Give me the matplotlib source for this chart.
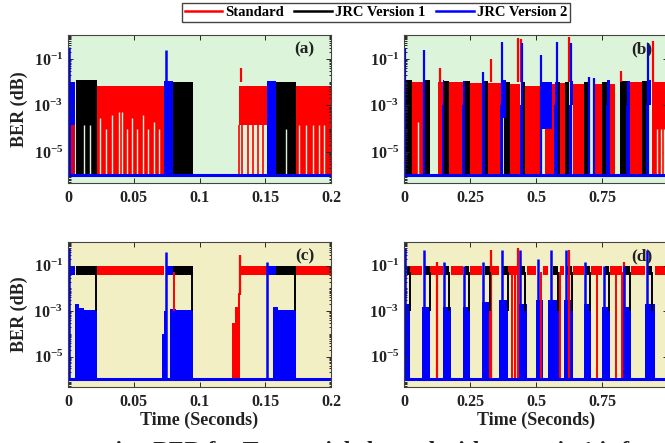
import numpy as np
import matplotlib
matplotlib.use('Agg')
import matplotlib.pyplot as plt
from matplotlib.ticker import FixedLocator, FixedFormatter, LogLocator, NullFormatter
from matplotlib.lines import Line2D

plt.rcParams['font.family'] = ['Liberation Serif', 'DejaVu Serif']
plt.rcParams['font.weight'] = 'bold'
plt.rcParams['mathtext.fontset'] = 'custom'
plt.rcParams['mathtext.rm'] = 'Liberation Serif:bold'
plt.rcParams['mathtext.bf'] = 'Liberation Serif:bold'

RED, BLACK, BLUE = '#ff0000', '#000000', '#0000ff'
GREEN_BG, YELLOW_BG = '#dcf5da', '#f3efc4'
FLOOR = 1e-6

legend_names = ['Standard', 'JRC Version 1', 'JRC Version 2']
panel_names = ['(a)', '(b)', '(c)', '(d)']
y_tick_vals = [1e-5, 1e-3, 1e-1]
y_tick_text = [r'$\mathbf{10^{-5}}$', r'$\mathbf{10^{-3}}$', r'$\mathbf{10^{-1}}$']
x_ticks_short = [0, 0.05, 0.1, 0.15, 0.2]
x_ticks_long = [0, 0.25, 0.5, 0.75, 1]

# ---------------- panel (a) : 0-0.2 s, green ----------------
a_red_t0 = [0.0218, 0.1297, 0.173]
a_red_t1 = [0.0733, 0.151, 0.2]
a_red_bot = [FLOOR, 1.5e-4, FLOOR]
a_red_top = [7e-3, 7e-3, 7e-3]
a_red_gap_t = [0.0245, 0.029, 0.0335, 0.039, 0.041, 0.0445, 0.049, 0.0525, 0.057, 0.0605, 0.0655, 0.069,
               0.176, 0.181, 0.186, 0.1905, 0.195]
a_red_gap_top = [3e-4, 1e-4, 4e-4, 5e-4, 5e-4, 1e-4, 3e-4, 1e-4, 4e-4, 1e-4, 2e-4, 1e-4,
                 1.5e-4, 1.5e-4, 1.5e-4, 1.5e-4, 1.5e-4]
a_red_line_t = [0.003, 0.0042, 0.1297, 0.1325, 0.137, 0.1405, 0.1445, 0.148]
a_red_line_top = [1.5e-4, 1.5e-4, 1.5e-4, 1.5e-4, 1.5e-4, 1.5e-4, 1.5e-4, 1.5e-4]
a_red_spike_t = [0.1313]
a_red_spike_v = [0.04]
a_blk_t0 = [0.006, 0.0796, 0.158]
a_blk_t1 = [0.0218, 0.0948, 0.173]
a_blk_top = [1.2e-2, 1.0e-2, 1.0e-2]
a_blk_gap_t = [0.0125, 0.0165, 0.166]
a_blk_gap_top = [1.5e-4, 1.5e-4, 1e-4]
a_blu_t0 = [0.0, 0.0728, 0.151]
a_blu_t1 = [0.0055, 0.0796, 0.158]
a_blu_top = [1.0e-2, 1.1e-2, 1.1e-2]
a_blu_spike_t = [0.0005, 0.0743]
a_blu_spike_v = [0.33, 0.25]

# ---------------- panel (b) : 0-1 s, green ----------------
b_red_t0 = [0.03, 0.13, 0.17, 0.25, 0.32, 0.40, 0.46, 0.535, 0.59, 0.64, 0.715, 0.78, 0.855, 0.94]
b_red_t1 = [0.072, 0.15, 0.225, 0.30, 0.37, 0.44, 0.52, 0.575, 0.61, 0.68, 0.75, 0.80, 0.90, 1.0]
b_red_top = [1e-2, 1e-2, 1e-2, 9e-3, 9e-3, 8e-3, 7e-3, 8e-3, 9e-3, 8e-3, 8e-3, 8e-3, 1e-2, 1e-2]
b_red_spike_t = [0.135, 0.33, 0.43, 0.443, 0.625, 0.823, 0.943]
b_red_spike_v = [0.04, 0.1, 0.8, 0.7, 0.9, 0.03, 0.6]
b_red_gap_t = [0.052, 0.958, 0.972, 0.986]
b_red_gap_top = [2e-4, 1e-4, 1e-4, 1e-4]
b_blk_t0 = [0.008, 0.077, 0.15, 0.228, 0.305, 0.38, 0.448, 0.575, 0.61, 0.68, 0.75, 0.82, 0.90]
b_blk_t1 = [0.03, 0.10, 0.17, 0.25, 0.32, 0.40, 0.46, 0.59, 0.625, 0.70, 0.77, 0.845, 0.92]
b_blk_top = [1.2e-2, 1.2e-2, 1.1e-2, 1.1e-2, 1.1e-2, 1e-2, 1e-2, 1e-2, 1e-2, 1e-2, 1e-2, 1.1e-2, 1.1e-2]
b_blu_t0 = [0.0, 0.074, 0.148, 0.224, 0.30, 0.368, 0.442, 0.52, 0.573, 0.628, 0.70, 0.77, 0.845, 0.92]
b_blu_t1 = [0.008, 0.081, 0.153, 0.23, 0.305, 0.385, 0.449, 0.56, 0.58, 0.64, 0.706, 0.78, 0.855, 0.935]
b_blu_bot = [FLOOR, FLOOR, FLOOR, FLOOR, FLOOR, 3e-4, FLOOR, 1e-4, FLOOR, 1e-3, FLOOR, FLOOR, FLOOR, 1e-3]
b_blu_top = [1.1e-2, 1.1e-2, 1.2e-2, 1.1e-2, 1.1e-2, 1.2e-2, 1e-2, 1e-2, 1e-2, 1.1e-2, 1.2e-2, 1.2e-2, 1.1e-2, 1.2e-2]
b_blu_spike_t = [0.003, 0.077, 0.30, 0.37, 0.446, 0.52, 0.578, 0.633, 0.70, 0.72, 0.925]
b_blu_spike_v = [0.3, 0.25, 0.027, 0.55, 0.5, 0.15, 0.55, 0.5, 0.016, 0.015, 0.5]

# ---------------- panel (c) : 0-0.2 s, yellow ----------------
c_red_t0 = [0.0218, 0.0796, 0.131, 0.1245, 0.127, 0.1292]
c_red_t1 = [0.0733, 0.0948, 0.2, 0.127, 0.1292, 0.1305]
c_red_bot = [0.038, 0.038, 0.038, FLOOR, FLOOR, FLOOR]
c_red_top = [0.1, 0.1, 0.1, 3e-4, 1.5e-3, 6e-3]
c_red_line_t = [0.0003, 0.0805]
c_red_line_bot = [FLOOR, 1e-3]
c_red_line_top = [2e-4, 0.05]
c_red_spike_t = [0.1308]
c_red_spike_v = [0.3]
c_blk_t0 = [0.006, 0.0796, 0.158]
c_blk_t1 = [0.0218, 0.0948, 0.173]
c_blk_drop_t = [0.0216, 0.0946, 0.1728]
c_blu_t0 = [0.0, 0.0745, 0.1515, 0.005, 0.0085, 0.012, 0.0775, 0.082, 0.156, 0.16, 0.0715, 0.073]
c_blu_t1 = [0.005, 0.0796, 0.158, 0.0085, 0.012, 0.0218, 0.082, 0.0948, 0.16, 0.1735, 0.073, 0.0745]
c_blu_bot = [0.038, 0.038, 0.038, FLOOR, FLOOR, FLOOR, FLOOR, FLOOR, FLOOR, FLOOR, FLOOR, FLOOR]
c_blu_top = [0.1, 0.1, 0.1, 2e-3, 1.4e-3, 1.1e-3, 1.2e-3, 1.1e-3, 1.5e-3, 1.1e-3, 1e-4, 1e-3]
c_blu_spike_t = [0.0005, 0.0745, 0.1515]
c_blu_spike_v = [0.6, 0.4, 0.15]

# ---------------- panel (d) : 0-1 s, yellow ----------------
d_red_t0 = [0.023, 0.10, 0.178, 0.25, 0.33, 0.395, 0.465, 0.528, 0.59, 0.64, 0.71, 0.78, 0.86, 0.95]
d_red_t1 = [0.067, 0.147, 0.222, 0.294, 0.36, 0.43, 0.50, 0.547, 0.605, 0.68, 0.75, 0.826, 0.913, 1.0]
d_red_spike_t = [0.126, 0.33, 0.43, 0.624, 0.833]
d_red_spike_v = [0.15, 0.5, 0.6, 0.5, 0.15]
d_red_drop_t = [0.0005, 0.126, 0.326, 0.41, 0.42, 0.518, 0.59, 0.73, 0.803, 0.824]
d_blk_t0 = [0.01, 0.077, 0.156, 0.232, 0.308, 0.376, 0.445, 0.565, 0.618, 0.69, 0.76, 0.835, 0.92]
d_blk_t1 = [0.023, 0.10, 0.172, 0.248, 0.324, 0.395, 0.46, 0.585, 0.635, 0.705, 0.775, 0.855, 0.94]
d_blu_t0 = [0.0, 0.067, 0.147, 0.222, 0.294, 0.36, 0.435, 0.50, 0.547, 0.605, 0.68, 0.75, 0.826, 0.913]
d_blu_t1 = [0.023, 0.10, 0.178, 0.25, 0.324, 0.395, 0.465, 0.528, 0.59, 0.64, 0.71, 0.78, 0.86, 0.95]
d_blu_top = [2e-3, 1.5e-3, 1.5e-3, 1.5e-3, 2.5e-3, 3e-3, 2e-3, 3e-3, 3e-3, 3e-3, 2e-3, 1.5e-3, 1.5e-3, 2e-3]
d_blu_spike_t = [0.004, 0.077, 0.153, 0.229, 0.30, 0.37, 0.44, 0.508, 0.556, 0.614, 0.686, 0.758, 0.833, 0.92]
d_blu_spike_v = [0.6, 0.5, 0.15, 0.1, 0.15, 0.5, 0.5, 0.2, 0.5, 0.5, 0.15, 0.1, 0.1, 0.5]


def blocks(ax, t0, t1, bot, top, color):
    t0 = np.asarray(t0)
    t1 = np.asarray(t1)
    bot = np.broadcast_to(np.asarray(bot, dtype=float), t0.shape)
    top = np.broadcast_to(np.asarray(top, dtype=float), t0.shape)
    ax.bar(t0, top - bot, bottom=bot, width=t1 - t0, align='edge',
           color=color, linewidth=0)


def lines(ax, t, bot, top, color, lw=1.4):
    ax.vlines(t, bot, top, colors=color, linewidth=lw)


fig = plt.figure(figsize=(6.65, 4.43), dpi=100)
ax_a = fig.add_axes([0.1023, 0.587, 0.3955, 0.334])
ax_b = fig.add_axes([0.6075, 0.587, 0.397, 0.334])
ax_c = fig.add_axes([0.1023, 0.1264, 0.3955, 0.327])
ax_d = fig.add_axes([0.6075, 0.1264, 0.397, 0.327])

# (a)
ax = ax_a
blocks(ax, a_red_t0, a_red_t1, a_red_bot, a_red_top, RED)
lines(ax, a_red_gap_t, FLOOR, a_red_gap_top, GREEN_BG, 1.0)
lines(ax, a_red_line_t, FLOOR, a_red_line_top, RED, 1.2)
lines(ax, a_red_spike_t, 1e-2, a_red_spike_v, RED, 1.6)
blocks(ax, a_blk_t0, a_blk_t1, FLOOR, a_blk_top, BLACK)
lines(ax, a_blk_gap_t, FLOOR, a_blk_gap_top, GREEN_BG, 1.0)
blocks(ax, a_blu_t0, a_blu_t1, FLOOR, a_blu_top, BLUE)
lines(ax, a_blu_spike_t, FLOOR, a_blu_spike_v, BLUE, 1.8)
ax.plot([0, 0.2], [FLOOR, FLOOR], color=BLUE, lw=2.2)

# (b)
ax = ax_b
blocks(ax, b_red_t0, b_red_t1, FLOOR, b_red_top, RED)
lines(ax, b_red_gap_t, FLOOR, b_red_gap_top, GREEN_BG, 1.0)
lines(ax, b_red_spike_t, 1e-2, b_red_spike_v, RED, 1.6)
blocks(ax, b_blk_t0, b_blk_t1, FLOOR, b_blk_top, BLACK)
blocks(ax, b_blu_t0, b_blu_t1, b_blu_bot, b_blu_top, BLUE)
lines(ax, b_blu_t0, FLOOR, 1e-3, BLUE, 1.4)
lines(ax, b_blu_spike_t, FLOOR, b_blu_spike_v, BLUE, 1.6)
ax.plot([0, 1], [FLOOR, FLOOR], color=BLUE, lw=2.2)

# (c)
ax = ax_c
blocks(ax, c_red_t0, c_red_t1, c_red_bot, c_red_top, RED)
lines(ax, c_red_line_t, c_red_line_bot, c_red_line_top, RED, 1.4)
lines(ax, c_red_spike_t, 5e-3, c_red_spike_v, RED, 1.6)
blocks(ax, c_blk_t0, c_blk_t1, 0.038, 0.1, BLACK)
lines(ax, c_blk_drop_t, 1e-3, 0.05, BLACK, 1.4)
blocks(ax, c_blu_t0, c_blu_t1, c_blu_bot, c_blu_top, BLUE)
lines(ax, c_blu_spike_t, FLOOR, c_blu_spike_v, BLUE, 1.8)
ax.plot([0, 0.2], [FLOOR, FLOOR], color=BLUE, lw=2.2)

# (d)
ax = ax_d
blocks(ax, d_red_t0, d_red_t1, 0.038, 0.1, RED)
lines(ax, d_red_drop_t, FLOOR, 0.05, RED, 1.4)
lines(ax, d_red_spike_t, FLOOR, d_red_spike_v, RED, 1.6)
blocks(ax, d_blk_t0, d_blk_t1, 0.038, 0.1, BLACK)
lines(ax, d_blk_t1, 1e-3, 0.05, BLACK, 1.4)
blocks(ax, d_blu_t0, d_blu_t1, FLOOR, d_blu_top, BLUE)
lines(ax, d_blu_spike_t, FLOOR, d_blu_spike_v, BLUE, 1.8)
ax.plot([0, 1], [FLOOR, FLOOR], color=BLUE, lw=2.2)

for ax, name, bg, xt in zip([ax_a, ax_b, ax_c, ax_d], panel_names,
                            [GREEN_BG, GREEN_BG, YELLOW_BG, YELLOW_BG],
                            [x_ticks_short, x_ticks_long, x_ticks_short, x_ticks_long]):
    ax.set_facecolor(bg)
    ax.set_yscale('log')
    ax.set_ylim(4.6e-7, 1.08)
    ax.set_xlim(xt[0], xt[-1])
    ax.set_xticks(xt)
    ax.set_xticklabels([f'{v:g}' for v in xt])
    ax.yaxis.set_major_locator(FixedLocator(y_tick_vals))
    ax.yaxis.set_major_formatter(FixedFormatter(y_tick_text))
    ax.yaxis.set_minor_locator(LogLocator(base=10, subs=np.arange(1, 10), numticks=30))
    ax.yaxis.set_minor_formatter(NullFormatter())
    ax.tick_params(which='both', direction='in', top=True, right=True, colors='#262626',
                   labelcolor='#222222', labelsize=11.5, width=0.7)
    ax.tick_params(which='major', length=3.5)
    ax.tick_params(which='minor', length=1.8)
    ax.tick_params(axis='x', pad=5)
    for s in ax.spines.values():
        s.set_color('#444444')
        s.set_linewidth(0.8)
    ax.text(0.9, 0.905, name, transform=ax.transAxes, ha='center', va='center',
            fontsize=12.5, fontweight='bold', color='#222222')

ax_a.set_ylabel('BER (dB)', fontsize=13, fontweight='bold', labelpad=4, color='#222222')
ax_c.set_ylabel('BER (dB)', fontsize=13, fontweight='bold', labelpad=4, color='#222222')
ax_c.set_xlabel('Time (Seconds)', fontsize=13, fontweight='bold', labelpad=1, color='#222222')
ax_d.set_xlabel('Time (Seconds)', fontsize=13, fontweight='bold', labelpad=1, color='#222222')

handles = [Line2D([], [], color=c, lw=1.8) for c in (RED, BLACK, BLUE)]
fig.legend(handles, legend_names, loc='center', bbox_to_anchor=(0.565, 0.972), ncol=3,
           fancybox=False, edgecolor='#444444', framealpha=1, handlelength=2.6,
           handletextpad=0.2, columnspacing=0.7, borderpad=0.2,
           prop={'family': 'Liberation Serif', 'weight': 'bold', 'size': 10.5})

# caption line, cut by the lower edge as in the source
fig.text(0.14, -0.031, 'using BER for Terrestrial channel with scenario 1 is for', fontsize=17,
         fontweight='bold', ha='left', va='baseline', color='#222222')

fig.savefig('out.png', dpi=100)
